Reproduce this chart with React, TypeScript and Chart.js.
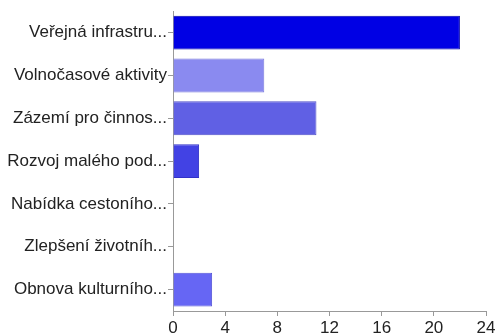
import React, { useEffect, useRef } from "react";
import { Chart, registerables } from "chart.js";

Chart.register(...registerables);

const categories = [
  "Veřejná infrastru...",
  "Volnočasové aktivity",
  "Zázemí pro činnos...",
  "Rozvoj malého pod...",
  "Nabídka cestoního...",
  "Zlepšení životníh...",
  "Obnova kulturního...",
];
const values = [22, 7, 11, 2, 0, 0, 3];
const barColors = [
  "rgb(0,0,228)",
  "rgb(138,138,240)",
  "rgb(96,96,228)",
  "rgb(66,66,228)",
  "rgb(80,80,230)",
  "rgb(80,80,230)",
  "rgb(102,102,244)",
];
const borderColors = [
  "rgb(0,0,170)",
  "rgb(120,120,220)",
  "rgb(80,80,200)",
  "rgb(50,50,200)",
  "rgb(60,60,200)",
  "rgb(60,60,200)",
  "rgb(85,85,215)",
];
const xTicks = [0, 4, 8, 12, 16, 20, 24];

export default function App() {
  const ref = useRef<HTMLCanvasElement | null>(null);
  useEffect(() => {
    document.body.style.margin = "0";
    const canvas = ref.current!;
    const chart = new Chart(canvas, {
      type: "bar",
      data: {
        labels: categories,
        datasets: [
          {
            data: values,
            backgroundColor: barColors,
            borderColor: borderColors,
            borderWidth: 1,
            categoryPercentage: 0.8,
            barPercentage: 0.99,
          },
        ],
      },
      options: {
        indexAxis: "y",
        animation: false,
        responsive: false,
        maintainAspectRatio: false,
        layout: { padding: { top: 10, right: 13, left: 0, bottom: 0 } },
        plugins: { legend: { display: false }, tooltip: { enabled: false } },
        scales: {
          x: {
            min: 0,
            max: 24,
            afterBuildTicks: (axis: any) => {
              axis.ticks = xTicks.map((v) => ({ value: v }));
            },
            grid: {
              drawOnChartArea: false,
              drawTicks: true,
              tickLength: 5,
              color: "#999",
            },
            border: { display: true, color: "#999" },
            ticks: {
              color: "#222",
              font: { family: "Liberation Sans", size: 17 },
              padding: 2,
              maxRotation: 0,
            },
            afterFit: (axis: any) => {
              axis.height = 23;
            },
          },
          y: {
            grid: {
              drawOnChartArea: false,
              drawTicks: true,
              tickLength: 5,
              offset: false,
              color: "#999",
            },
            border: { display: true, color: "#999" },
            ticks: {
              color: "#222",
              font: { family: "Liberation Sans", size: 17 },
              padding: 1,
              autoSkip: false,
            },
            afterFit: (axis: any) => {
              axis.width = 173;
            },
          },
        },
      },
    });
    return () => chart.destroy();
  }, []);
  return <canvas ref={ref} width={499} height={334} style={{ display: "block" }} />;
}
